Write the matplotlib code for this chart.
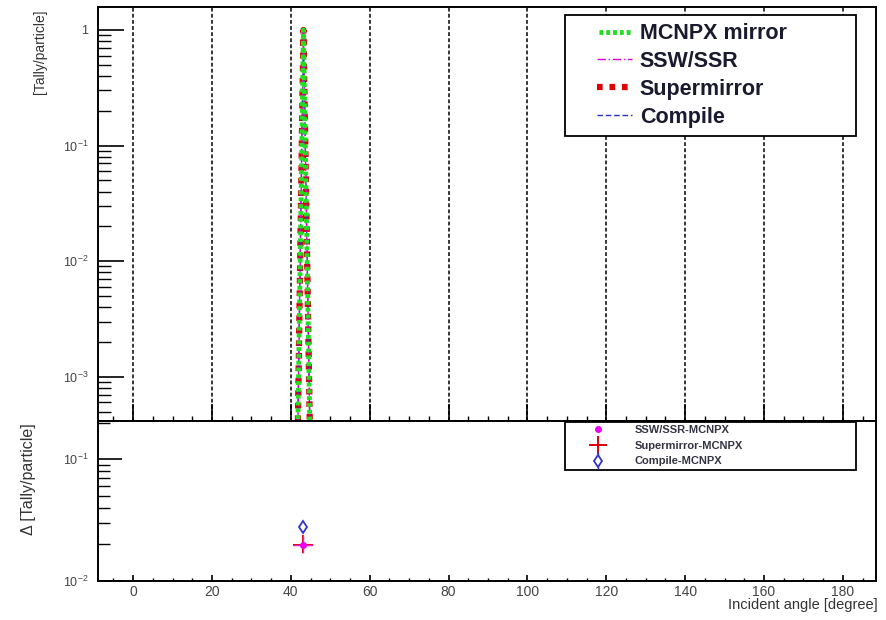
import numpy as np
import matplotlib
matplotlib.use('Agg')
import matplotlib.pyplot as plt
from matplotlib.ticker import FixedLocator, MultipleLocator, NullFormatter
from matplotlib.container import ErrorbarContainer
from matplotlib.lines import Line2D
from matplotlib.legend_handler import HandlerErrorbar, HandlerLine2D

plt.rcParams['font.family'] = ['Liberation Sans', 'DejaVu Sans']
plt.rcParams['mathtext.fontset'] = 'custom'
plt.rcParams['mathtext.rm'] = 'Liberation Sans'
plt.rcParams['mathtext.it'] = 'Liberation Sans:italic'

# Данные верхней панели: пик отражения около 43 градусов
angle = [41.8, 43.2, 44.8]
mcnpx_mirror = [0.0, 1.0, 0.0]
ssw_ssr = [0.0, 1.0, 0.0]
supermirror = [0.0, 1.0, 0.0]
compile_ = [0.0, 1.0, 0.0]

# Данные нижней панели: разности относительно MCNPX
diff_angle = [43.1]
ssw_minus_mcnpx = [0.0197]
super_minus_mcnpx = [0.0197]
super_err_x = [2.6]
super_err_lo = [0.0028]
super_err_hi = [0.0041]
compile_minus_mcnpx = [0.0277]
compile_err = [0.0012]

x_major = [0, 20, 40, 60, 80, 100, 120, 140, 160, 180]
x_labels = ['0', '20', '40', '60', '80', '100', '120', '140', '160', '180']
top_yticks = [1, 0.1, 0.01, 0.001]
top_ylabels = ['1', '$10^{-1}$', '$10^{-2}$', '$10^{-3}$']
bot_yticks = [0.1, 0.01]
bot_ylabels = ['$10^{-1}$', '$10^{-2}$']

xmin, xmax = -8.9, 188.4
top_ymin, top_ymax = 4.14e-4, 1.58
bot_ymin, bot_ymax = 0.01, 0.2065

tick_color = '#444444'

fig = plt.figure(figsize=(8.86, 6.2), dpi=100)
ax_top = fig.add_axes([98 / 886, 199 / 620, 778 / 886, 414 / 620])
ax_bot = fig.add_axes([98 / 886, 39 / 620, 778 / 886, 160 / 620])

# Верхняя панель
ax_top.set_yscale('log')
ax_top.set_xlim(xmin, xmax)
ax_top.set_ylim(top_ymin, top_ymax)


def floor(values):
    # пустые бины ROOT рисует по нижней границе рамки
    v = np.asarray(values)
    return np.where(v > 0, v, top_ymin)


ax_top.plot(angle, floor(supermirror), color='#dd0000', lw=4.5,
            ls=(0, (0.9, 1.1)), label='Supermirror', zorder=3)
ax_top.plot(angle, floor(compile_), color='#2233cc', lw=1.0,
            ls=(0, (4, 2)), label='Compile', zorder=3)
ax_top.plot(angle, floor(ssw_ssr), color='#dd00dd', lw=1.0,
            ls=(0, (6, 2, 1, 2)), label='SSW/SSR', zorder=4)
ax_top.plot(angle, floor(mcnpx_mirror), color='#22dd22', lw=3.5,
            ls=(1.0, (0.8, 0.6)), label='MCNPX mirror', zorder=5)

for xv in x_major:
    ax_top.axvline(xv, color='black', lw=1.1, ls=(0, (2.5, 1.5)), zorder=1)

ax_top.xaxis.set_major_locator(FixedLocator(x_major))
ax_top.xaxis.set_minor_locator(MultipleLocator(5))
ax_top.xaxis.set_major_formatter(NullFormatter())
ax_top.set_yticks(top_yticks)
ax_top.set_yticklabels(top_ylabels)
ax_top.yaxis.set_minor_formatter(NullFormatter())
ax_top.tick_params(axis='x', which='major', direction='in', length=12, width=1.2)
ax_top.tick_params(axis='x', which='minor', direction='in', length=3.6, width=1.0)
ax_top.tick_params(axis='y', which='major', direction='in', length=18.5, width=1.2,
                   labelsize=9, labelcolor=tick_color, pad=7)
ax_top.tick_params(axis='y', which='minor', direction='in', length=9.4, width=1.0)

handles, labels = ax_top.get_legend_handles_labels()
order = [3, 2, 0, 1]
leg = ax_top.legend([handles[i] for i in order], [labels[i] for i in order],
                    loc='upper left', bbox_to_anchor=(0.6, 0.981, 0.374, 0.0),
                    mode='expand', borderaxespad=0, fancybox=False,
                    edgecolor='black', framealpha=1, handlelength=2.75,
                    handletextpad=0.35, labelspacing=0.32, borderpad=0.38,
                    handler_map={Line2D: HandlerLine2D(xpad=1.1)},
                    prop={'size': 15.5, 'weight': 'bold'})
leg.get_frame().set_linewidth(1.3)
for t in leg.get_texts():
    t.set_color('#1a1a2e')

# Нижняя панель
ax_bot.set_yscale('log')
ax_bot.set_xlim(xmin, xmax)
ax_bot.set_ylim(bot_ymin, bot_ymax)

h_super = ax_bot.errorbar(diff_angle, super_minus_mcnpx, xerr=super_err_x,
                          yerr=[super_err_lo, super_err_hi], fmt='none',
                          ecolor='#dd0000', elinewidth=1.4, capsize=0,
                          label='Supermirror-MCNPX', zorder=3)
ax_bot.errorbar(diff_angle, ssw_minus_mcnpx, xerr=super_err_x,
                yerr=[super_err_lo, super_err_hi], fmt='none',
                ecolor='#ee22cc', elinewidth=1.0, capsize=0, zorder=4)
h_ssw, = ax_bot.plot(diff_angle, ssw_minus_mcnpx, 'o', color='#ee00ee',
                     ms=4, label='SSW/SSR-MCNPX', zorder=5)
h_comp = ax_bot.errorbar(diff_angle, compile_minus_mcnpx, yerr=compile_err,
                         fmt='d', mfc='white', mec='#3333cc', mew=1.3, ms=6,
                         ecolor='#3333cc', elinewidth=1.0, capsize=0,
                         label='Compile-MCNPX', zorder=4)

ax_bot.xaxis.set_major_locator(FixedLocator(x_major))
ax_bot.xaxis.set_minor_locator(MultipleLocator(5))
ax_bot.set_xticklabels(x_labels)
ax_bot.set_yticks(bot_yticks)
ax_bot.set_yticklabels(bot_ylabels)
ax_bot.yaxis.set_minor_formatter(NullFormatter())
ax_bot.tick_params(axis='x', which='major', direction='in', length=4.5, width=1.2,
                   labelsize=10, labelcolor=tick_color, pad=3)
ax_bot.tick_params(axis='x', which='minor', direction='in', length=2.5, width=1.0)
ax_bot.tick_params(axis='y', which='major', direction='in', length=17.5, width=1.2,
                   labelsize=9, labelcolor=tick_color, pad=7)
ax_bot.tick_params(axis='y', which='minor', direction='in', length=8.5, width=1.0)

leg2 = ax_bot.legend([h_ssw, h_super, h_comp],
                     ['SSW/SSR-MCNPX', 'Supermirror-MCNPX', 'Compile-MCNPX'],
                     loc='upper left', bbox_to_anchor=(0.6, 0.994, 0.3745, 0.0),
                     mode='expand', borderaxespad=0, fancybox=False,
                     edgecolor='black', framealpha=1, handlelength=5.4,
                     handletextpad=0.6, labelspacing=0.5, borderpad=0.3,
                     handler_map={ErrorbarContainer: HandlerErrorbar(xerr_size=0.8)},
                     prop={'size': 8, 'weight': 'bold'})
leg2.get_frame().set_linewidth(1.3)
for t in leg2.get_texts():
    t.set_color('#333344')

for ax in (ax_top, ax_bot):
    for sp in ax.spines.values():
        sp.set_linewidth(1.4)

# Подписи осей
fig.text(40 / 886, 1 - 10 / 620, '[Tally/particle]', rotation=90,
         ha='center', va='top', fontsize=10, color='#333333')
fig.text(29 / 886, 1 - 423 / 620, '\u0394 [Tally/particle]', rotation=90,
         ha='center', va='top', fontsize=11.5, color='#333333')
fig.text(878 / 886, 1 - 605 / 620, 'Incident angle [degree]',
         ha='right', va='center', fontsize=10.5, color='#333333')

plt.savefig('out.png', dpi=100)
plt.close()
